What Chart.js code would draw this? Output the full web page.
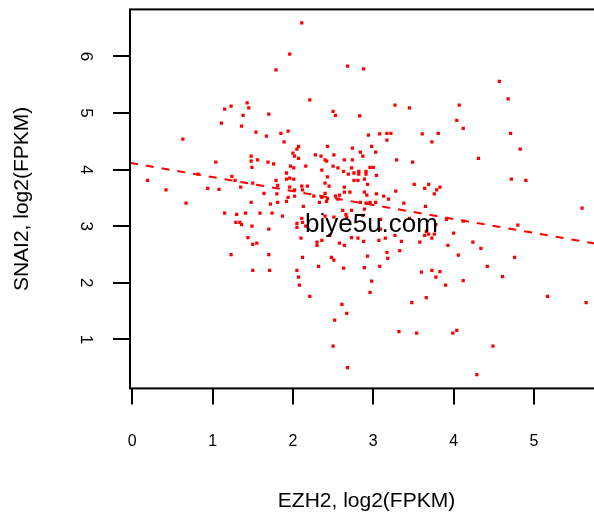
<!DOCTYPE html>
<html lang="en">
<head>
<meta charset="UTF-8">
<title>EZH2 vs SNAI2</title>
<style>
  html, body { margin: 0; padding: 0; background: #fff; overflow: hidden; }
  canvas { display: block; }
</style>
</head>
<body>
<canvas id="plot" width="610" height="517"></canvas>
<script src="https://cdn.jsdelivr.net/npm/chart.js"></script>
<script>
// expression per sample, log2(FPKM)
const ezh2 = [
  1.79, 1.23, 1.43, 1.15, 1.45, 1.38, 1.70, 1.11, 1.36, 1.54, 1.85, 2.11, 1.96, 2.68, 2.88, 2.21,
  3.27, 3.45, 2.50, 2.53, 2.83, 1.94, 2.94, 3.08, 3.17, 3.22, 3.61, 3.81, 4.57, 4.68, 4.07, 4.04,
  4.12, 4.71, 1.67, 1.89, 0.63, 1.48, 1.48, 1.56, 1.69, 1.76, 1.49, 1.04, 0.82, 1.24, 1.28, 0.19,
  1.79, 1.50, 1.81, 1.35, 0.94, 1.08, 0.42, 1.64, 1.80, 1.48, 1.81, 1.72, 0.67, 1.15, 1.30, 1.41,
  1.59, 1.74, 1.87, 1.29, 1.34, 1.36, 1.49, 1.70, 1.44, 1.50, 1.55, 1.23, 1.70, 1.50, 1.71, 3.17,
  3.73, 2.07, 2.05, 2.43, 2.74, 2.98, 2.00, 2.02, 2.07, 2.28, 2.35, 2.51, 2.84, 2.87, 3.03, 2.40,
  2.42, 2.64, 2.74, 3.29, 3.49, 1.97, 2.01, 2.16, 2.50, 2.56, 2.73, 2.96, 3.00, 2.36, 2.63, 2.69,
  2.76, 2.82, 2.82, 2.91, 2.91, 3.04, 1.92, 2.43, 1.92, 1.96, 2.01, 2.76, 2.81, 2.89, 2.93, 2.40,
  2.45, 2.11, 2.18, 2.64, 3.51, 3.69, 3.64, 3.79, 3.83, 1.96, 2.02, 2.12, 2.89, 3.28, 2.64, 2.71,
  2.40, 2.58, 2.53, 2.92, 3.04, 2.02, 2.26, 2.36, 3.76, 1.94, 1.92, 2.43, 2.33, 2.42, 2.56, 3.13,
  3.19, 2.84, 2.91, 2.96, 3.03, 3.38, 2.13, 2.62, 2.73, 2.89, 3.65, 2.66, 2.11, 2.40, 2.51, 2.67,
  2.87, 3.09, 2.05, 2.12, 2.05, 2.16, 3.45, 3.78, 3.66, 3.69, 3.76, 3.64, 3.73, 3.58, 3.09, 2.10,
  2.30, 2.30, 2.36, 2.46, 2.58, 2.64, 2.73, 2.81, 2.88, 3.07, 3.15, 3.27, 3.35, 3.33, 3.17, 3.18,
  2.93, 2.48, 2.51, 2.12, 2.05, 2.32, 2.63, 2.89, 3.08, 2.07, 2.08, 2.98, 2.21, 2.96, 3.60, 3.73,
  3.78, 3.83, 2.61, 2.67, 2.52, 3.48, 3.66, 3.32, 3.54, 2.50, 2.68, 4.06, 4.76, 4.42, 4.12, 4.61,
  3.90, 5.17, 5.65, 3.99, 4.04, 4.49, 4.29, 4.83, 4.31, 4.72, 4.90, 5.60, 3.91, 4.12, 4.80, 4.00,
  3.93, 4.24, 4.34
];
const snai2 = [
  5.76, 5.12, 5.18, 5.07, 5.09, 4.96, 4.98, 4.82, 4.77, 4.66, 4.64, 6.59, 6.04, 5.83, 5.78, 5.23,
  5.14, 5.09, 5.03, 4.96, 4.95, 4.68, 4.61, 4.63, 4.64, 4.64, 4.63, 4.64, 5.56, 5.25, 5.14, 4.87,
  4.73, 4.64, 4.59, 4.49, 4.54, 4.24, 4.15, 4.17, 4.13, 4.10, 4.04, 4.13, 3.92, 3.88, 3.81, 3.81,
  3.81, 3.76, 3.72, 3.69, 3.67, 3.65, 3.64, 3.58, 3.57, 3.42, 3.42, 3.39, 3.41, 3.23, 3.21, 3.23,
  3.23, 3.23, 3.18, 3.07, 3.07, 3.03, 3.00, 2.95, 2.80, 2.68, 2.70, 2.50, 2.50, 2.22, 2.22, 4.52,
  4.49, 4.41, 4.36, 4.41, 4.38, 4.41, 4.29, 4.24, 4.20, 4.26, 4.24, 4.26, 4.31, 4.24, 4.31, 4.17,
  4.15, 4.17, 4.17, 4.17, 4.13, 4.06, 4.03, 4.06, 4.06, 4.03, 4.03, 4.04, 4.04, 3.99, 3.97, 3.92,
  3.94, 3.97, 3.92, 3.97, 3.92, 3.90, 3.94, 3.87, 3.83, 3.85, 3.83, 3.81, 3.81, 3.83, 3.74, 3.76,
  3.71, 3.71, 3.71, 3.69, 3.74, 3.74, 3.67, 3.64, 3.69, 3.69, 3.64, 3.64, 3.60, 3.62, 3.60, 3.60,
  3.58, 3.55, 3.53, 3.55, 3.57, 3.53, 3.53, 3.51, 3.57, 3.51, 3.44, 3.49, 3.42, 3.44, 3.48, 3.53,
  3.48, 3.42, 3.41, 3.42, 3.42, 3.41, 3.35, 3.28, 3.28, 3.30, 3.35, 3.21, 3.14, 3.18, 3.16, 3.16,
  3.19, 3.12, 3.05, 3.07, 2.98, 3.00, 3.14, 3.03, 2.91, 2.86, 2.86, 2.84, 2.79, 2.72, 2.95, 2.79,
  2.72, 2.66, 2.75, 2.84, 2.70, 2.66, 2.80, 2.79, 2.73, 2.75, 2.79, 2.84, 2.73, 2.57, 2.54, 2.43,
  2.47, 2.45, 2.40, 2.45, 2.22, 2.29, 2.26, 2.27, 2.29, 2.10, 1.96, 2.03, 1.76, 1.83, 2.19, 2.22,
  2.10, 2.20, 1.62, 1.46, 1.34, 1.65, 1.74, 1.14, 1.11, 0.88, 0.50, 2.49, 2.45, 2.29, 2.04, 2.11,
  1.96, 1.76, 1.65, 1.11, 1.16, 0.88, 0.38, 4.36, 4.20, 3.83, 3.81, 3.32, 3.12, 3.09, 3.02, 2.88,
  2.66, 2.72, 2.61
];

// fitted trend line, end points at the axis limits
const fitX = [-0.028, 5.86];
const fitY = [4.12, 2.67];

const xTicks = [0, 1, 2, 3, 4, 5];
const yTicks = [1, 2, 3, 4, 5, 6];

const FONT = "'Liberation Sans', Arial, Helvetica, sans-serif";
Chart.defaults.color = '#000';
Chart.defaults.font.family = FONT;

// full frame around the plotting region
const frame = {
  id: 'frame',
  afterDatasetsDraw(chart) {
    const {ctx, chartArea: a} = chart;
    ctx.save();
    ctx.strokeStyle = '#000';
    ctx.lineWidth = 2;
    ctx.strokeRect(a.left, a.top, a.right - a.left, a.bottom - a.top);
    ctx.restore();
  }
};

// site stamp over the plot
const stamp = {
  id: 'stamp',
  afterDraw(chart) {
    const ctx = chart.ctx;
    ctx.save();
    ctx.font = '26px ' + FONT;
    ctx.fillStyle = '#000';
    ctx.textAlign = 'left';
    ctx.textBaseline = 'alphabetic';
    ctx.fillText('biye5u.com', 305, 231.5);
    ctx.restore();
  }
};

new Chart(document.getElementById('plot'), {
  type: 'scatter',
  data: {
    datasets: [
      {
        data: ezh2.map((x, i) => ({x: x, y: snai2[i]})),
        pointStyle: 'rect',
        pointRadius: 2.3,
        pointBorderWidth: 0,
        pointBackgroundColor: '#ff0000',
        order: 1
      },
      {
        data: fitX.map((x, i) => ({x: x, y: fitY[i]})),
        showLine: true,
        pointRadius: 0,
        borderColor: '#ff0000',
        borderWidth: 2,
        borderDash: [8, 8],
        fill: false,
        order: 0
      }
    ]
  },
  options: {
    responsive: false,
    animation: false,
    events: [],
    layout: { padding: { top: 9.4, right: 7, bottom: 0, left: 0 } },
    plugins: { legend: { display: false }, tooltip: { enabled: false } },
    scales: {
      x: {
        type: 'linear',
        min: -0.028,
        max: 5.86,
        afterBuildTicks: s => { s.ticks = xTicks.map(v => ({value: v})); },
        afterFit: s => { s.height = 128.6; s.paddingLeft = 0; s.paddingRight = 0; },
        border: { display: false },
        grid: { drawOnChartArea: false, drawTicks: true, tickLength: 16, color: '#000', lineWidth: 2 },
        ticks: { padding: 27.7, maxRotation: 0, autoSkip: false, font: { size: 16 } },
        title: {
          display: true,
          text: 'EZH2, log2(FPKM)',
          font: { size: 21 },
          padding: { top: 0, bottom: 2.7 }
        }
      },
      y: {
        type: 'linear',
        min: 0.135,
        max: 6.83,
        afterBuildTicks: s => { s.ticks = yTicks.map(v => ({value: v})); },
        afterFit: s => { s.width = 130; s.paddingTop = 0; s.paddingBottom = 0; },
        border: { display: false },
        grid: { drawOnChartArea: false, drawTicks: true, tickLength: 17, color: '#000', lineWidth: 2 },
        ticks: { padding: 22.5, minRotation: -90, maxRotation: -90, crossAlign: 'center', autoSkip: false, font: { size: 17 } },
        title: {
          display: true,
          text: 'SNAI2, log2(FPKM)',
          font: { size: 21 },
          padding: { top: 9.4, bottom: 0 }
        }
      }
    }
  },
  plugins: [frame, stamp]
});
</script>
</body>
</html>
